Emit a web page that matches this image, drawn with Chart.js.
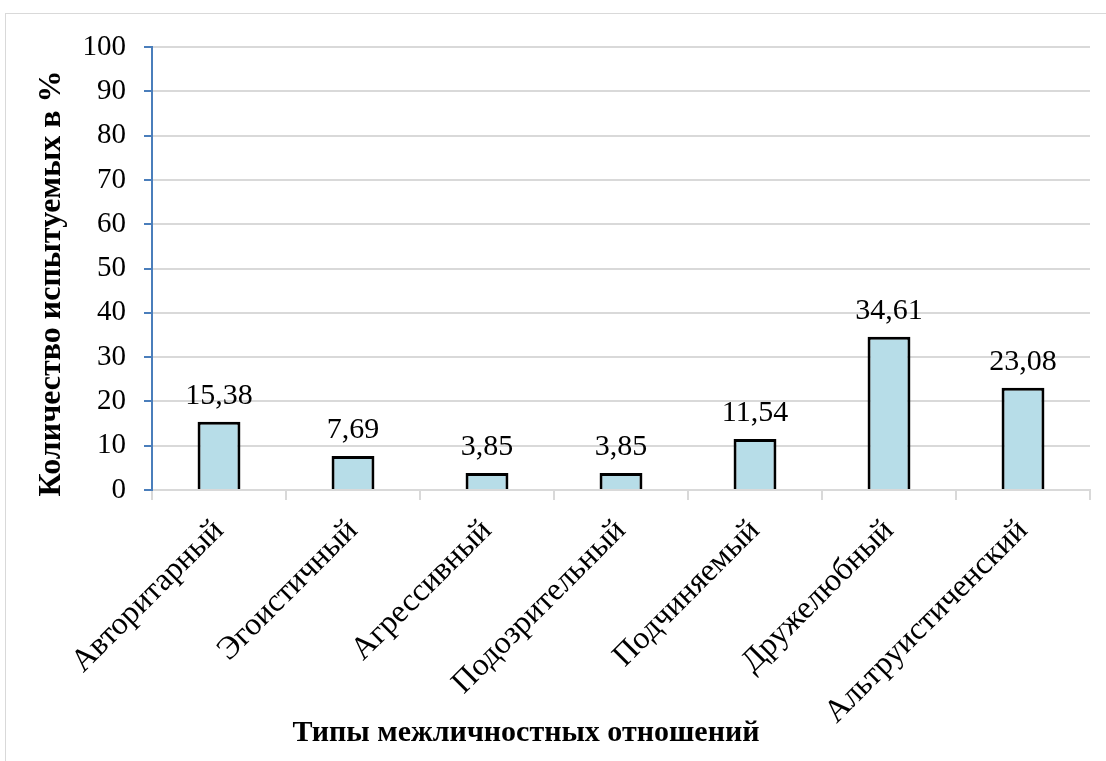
<!DOCTYPE html>
<html>
<head>
<meta charset="utf-8">
<script src="https://cdn.jsdelivr.net/npm/chart.js@4/dist/chart.umd.min.js"></script>
<style>
  body { margin: 0; background: #fff; }
  #wrap { position: relative; width: 1106px; height: 761px; overflow: hidden; }
  #frame { position: absolute; left: 5px; top: 13px; width: 1200px; height: 800px; border: 1px solid #d9d9d9; }
  canvas { position: absolute; left: 0; top: 0; }
</style>
</head>
<body>
<div id="wrap">
  <div id="frame"></div>
  <canvas id="chart" width="1106" height="761"></canvas>
</div>
<script>
// типы отношений и доли испытуемых
const categories = ['Авторитарный', 'Эгоистичный', 'Агрессивный', 'Подозрительный', 'Подчиняемый', 'Дружелюбный', 'Альтруистиченский'];
const percentValues = [15.38, 7.69, 3.85, 3.85, 11.54, 34.61, 23.08];
const yTicks = [0, 10, 20, 30, 40, 50, 60, 70, 80, 90, 100];
const xTitle = 'Типы межличностных отношений';
const yTitle = 'Количество испытуемых в %';

const serif = "'Liberation Serif', 'DejaVu Serif', serif";

// подписи значений над столбцами (с запятой) + названия осей
const valueLabels = {
  id: 'valueLabels',
  afterDatasetsDraw(chart) {
    const ctx = chart.ctx;
    const meta = chart.getDatasetMeta(0);
    ctx.save();
    ctx.font = '30px ' + serif;
    ctx.fillStyle = '#000';
    ctx.textAlign = 'center';
    ctx.textBaseline = 'alphabetic';
    meta.data.forEach((bar, i) => {
      const txt = percentValues[i].toFixed(2).replace('.', ',');
      ctx.fillText(txt, bar.x, bar.y - 18);
    });

    // заголовок оси X
    ctx.font = 'bold 30px ' + serif;
    ctx.textBaseline = 'middle';
    ctx.fillText(xTitle, chart.width / 2 - 27, 733);

    // заголовок оси Y
    ctx.font = 'bold 32px ' + serif;
    ctx.translate(52, (chart.chartArea.top + chart.chartArea.bottom) / 2 + 15);
    ctx.rotate(-Math.PI / 2);
    ctx.fillText(yTitle, 0, 0);
    ctx.restore();
  }
};

new Chart(document.getElementById('chart'), {
  type: 'bar',
  data: {
    labels: categories,
    datasets: [{
      data: percentValues,
      backgroundColor: '#b7dde8',
      borderColor: '#000',
      borderWidth: 3,
      barPercentage: 0.32,
      categoryPercentage: 1
    }]
  },
  options: {
    responsive: false,
    animation: false,
    layout: { padding: { top: 47, right: 16, left: 0, bottom: 0 } },
    plugins: {
      legend: { display: false },
      tooltip: { enabled: false },
      title: { display: false }
    },
    scales: {
      x: {
        grid: { drawOnChartArea: false, color: '#d9d9d9', tickLength: 10, lineWidth: 2 },
        border: { color: '#d9d9d9', width: 2 },
        ticks: {
          color: '#000',
          font: { family: serif, size: 32 },
          maxRotation: 45,
          minRotation: 45,
          padding: 12
        },
        afterFit(scale) { scale.height = 271; }
      },
      y: {
        min: 0,
        max: 100,
        afterBuildTicks(scale) { scale.ticks = yTicks.map(v => ({ value: v })); },
        grid: { color: '#d9d9d9', lineWidth: 2, tickColor: '#4a7ebb', tickLength: 8 },
        border: { color: '#4a7ebb', width: 2 },
        ticks: {
          color: '#000',
          font: { family: serif, size: 29 },
          padding: 18
        },
        afterFit(scale) { scale.width = 152; }
      }
    }
  },
  plugins: [valueLabels]
});
</script>
</body>
</html>
